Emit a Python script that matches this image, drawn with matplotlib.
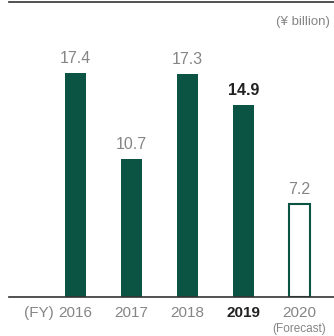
import matplotlib
matplotlib.use("Agg")
import matplotlib.pyplot as plt

years = ["2016", "2017", "2018", "2019", "2020"]
values = [17.4, 10.7, 17.3, 14.9, 7.2]
value_labels = ["17.4", "10.7", "17.3", "14.9", "7.2"]
forecast = [False, False, False, False, True]

GREEN = "#0b5443"
GREY = "#858585"
DARK = "#222222"
plt.rcParams['font.family'] = ['Liberation Sans', 'DejaVu Sans']

fig = plt.figure(figsize=(3.34, 3.36), dpi=100)
ax = fig.add_axes([9/334, 39/336, 325/334, 295/336])

x = list(range(len(years)))
for i, (v, f) in enumerate(zip(values, forecast)):
    if f:
        ax.bar(i, v, width=0.375, facecolor="white", edgecolor=GREEN, linewidth=1.5)
    else:
        ax.bar(i, v, width=0.375, color=GREEN)
    bold = years[i] == "2019"
    ax.annotate(value_labels[i], (i, v), xytext=(0, 5), textcoords="offset points",
                ha="center", va="bottom", fontsize=11.5,
                color=DARK if bold else GREY,
                fontweight="bold" if bold else "normal")

ax.set_xlim(-1.1875, 4.616)
ax.set_ylim(0, 296/12.93)
for s in ["left", "right"]:
    ax.spines[s].set_visible(False)
ax.spines["bottom"].set_color("#333333")
ax.spines["top"].set_color("#333333")
ax.spines["bottom"].set_linewidth(1.2)
ax.spines["top"].set_linewidth(1.2)
ax.set_yticks([])
ax.set_xticks(x)
ax.set_xticklabels(years, fontsize=11)
ax.tick_params(axis="x", length=0, pad=6.5)
for lbl, y in zip(ax.get_xticklabels(), years):
    if y == "2019":
        lbl.set_fontweight("bold")
        lbl.set_color(DARK)
    else:
        lbl.set_color(GREY)

ax.annotate("(FY)", (0, 0), xytext=(-15.5, -6.5), textcoords="offset points",
            ha="right", va="top", fontsize=11, color=GREY,
            annotation_clip=False)
ax.annotate("(Forecast)", (4, 0), xytext=(0, -19), textcoords="offset points",
            ha="center", va="top", fontsize=8.5, color=GREY,
            annotation_clip=False)
fig.text(330/334, 1 - 22/336, "(¥ billion)", ha="right", va="center",
         fontsize=9.5, color=GREY)

fig.savefig("out.png", dpi=100)
